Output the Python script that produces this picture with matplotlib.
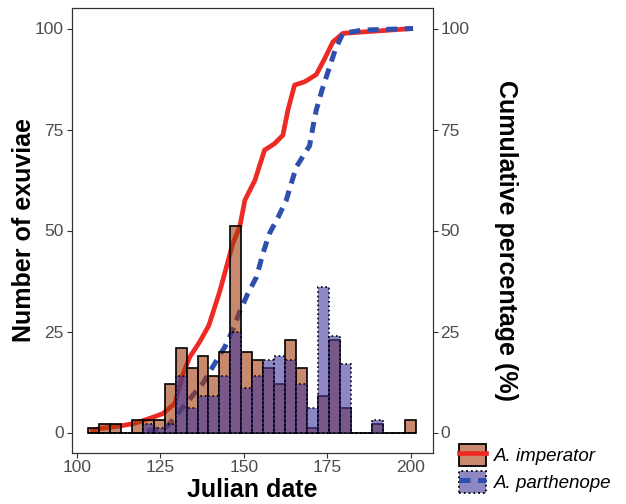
import numpy as np
import matplotlib
matplotlib.use("Agg")
import matplotlib.pyplot as plt
from matplotlib.colors import to_rgba
from matplotlib.patches import Patch
from matplotlib.lines import Line2D

plt.rcParams["font.family"] = ["Liberation Sans", "DejaVu Sans"]

# histogram: 30 bins centred from day 105 to day 200
bin_centers = np.linspace(105, 200, 30)
imperator_counts = [1, 2, 2, 0, 3, 3, 3, 12, 21, 16, 19, 14, 20, 51, 20,
                    18, 16, 12, 23, 16, 1, 9, 23, 6, 0, 0, 2, 0, 0, 3]
parthenope_counts = [0, 0, 0, 0, 0, 2, 1, 2, 14, 6, 9, 9, 14, 25, 11,
                     14, 18, 19, 18, 12, 6, 36, 24, 17, 0, 0, 3, 0, 0, 0]

# cumulative emergence (%)
imp_days = [104, 107, 112, 117, 121.8, 125.8, 129.3, 131.8, 133.8, 136.8, 139.5,
            142.8, 146.7, 148.8, 150.3, 153.3, 156.2, 159.2, 161.7, 163.2, 165.2,
            168.2, 171.7, 174.2, 176.7, 179.7, 200.7]
imp_cum = [0.3, 1.0, 1.5, 2.2, 3.5, 4.7, 7.2, 14.6, 18.7, 22.5, 26.5,
           35, 46.8, 51, 57.5, 62.4, 69.9, 71.5, 73.6, 79.8, 86,
           86.8, 88.6, 92.5, 96.7, 98.8, 100]
par_days = [121, 124, 127, 130.3, 134.3, 137.8, 141.3, 144.3, 146.5, 148.8, 151.2,
            153.8, 155.7, 157.7, 160.4, 162.7, 165.7, 169.7, 170.7, 171.7, 173.4,
            175.7, 177.5, 179.7, 185.6, 200.7]
par_cum = [0.4, 0.8, 1.5, 4.7, 8.8, 12.3, 17.1, 21.2, 25, 30, 34.4,
           38.5, 44.3, 49.3, 53.5, 57.5, 65.7, 71, 75.6, 79.8, 84.7,
           90.5, 95, 98.8, 99.6, 100]

ticks = [0, 25, 50, 75, 100]
xticks = [100, 125, 150, 175, 200]

imp_fill = to_rgba("#a33c0d", 0.6)
par_fill = to_rgba("#42389c", 0.6)
red = "#ee2a24"
blue = "#2e4fae"
bw = (200 - 105) / 29

fig = plt.figure(figsize=(6.26, 5.04), dpi=100)
ax = fig.add_axes([71.7 / 626, 1 - 452.7 / 504, 361 / 626, 444.4 / 504])

ax.plot(imp_days, imp_cum, color=red, lw=3.4, solid_capstyle="butt", zorder=1)
ax.plot(par_days, par_cum, color=blue, lw=3.6, dashes=(2.2, 1.5), zorder=1)

ax.bar(bin_centers, imperator_counts, width=bw, facecolor=imp_fill,
       edgecolor="black", linewidth=1.2, zorder=2)
ax.bar(bin_centers, parthenope_counts, width=bw, facecolor=par_fill,
       edgecolor="black", linewidth=1.2, linestyle=":", zorder=3)

ax.set_xlim(98.4, 206.6)
ax.set_ylim(-5, 105)
ax.set_xticks(xticks)
ax.set_yticks(ticks)

ax2 = ax.twinx()
ax2.set_ylim(-5, 105)
ax2.set_yticks(ticks)

for a in (ax, ax2):
    a.tick_params(colors="#333333", labelcolor="#4d4d4d", labelsize=12.5,
                  length=3.6, width=0.8, pad=2)
    for s in a.spines.values():
        s.set_color("#333333")
        s.set_linewidth(0.8)

fig.text(252 / 626, 1 - 490 / 504, "Julian date", ha="center", va="center",
         fontsize=18, fontweight="bold")
fig.text(24 / 626, 1 - 230 / 504, "Number of exuviae", ha="center", va="center",
         rotation=90, fontsize=18, fontweight="bold")
fig.text(506 / 626, 1 - 240 / 504, "Cumulative percentage (%)", ha="center",
         va="center", rotation=270, fontsize=18, fontweight="bold")

handles = [
    (Patch(facecolor=imp_fill, edgecolor="black", linewidth=1.3),
     Line2D([], [], color=red, lw=3.4)),
    (Patch(facecolor=par_fill, edgecolor="black", linewidth=1.3, linestyle=":"),
     Line2D([], [], color=blue, lw=3.6, dashes=(2.2, 1.5))),
]
fig.legend(handles, ["A. imperator", "A. parthenope"], loc="lower left",
           bbox_to_anchor=(459 / 626, 1 - 493 / 504), frameon=False,
           prop={"size": 13.5, "style": "italic"}, handlelength=1.42,
           handleheight=1.42, labelspacing=0.27, handletextpad=0.45,
           borderpad=0, borderaxespad=0)

fig.savefig("out.png", dpi=100)
